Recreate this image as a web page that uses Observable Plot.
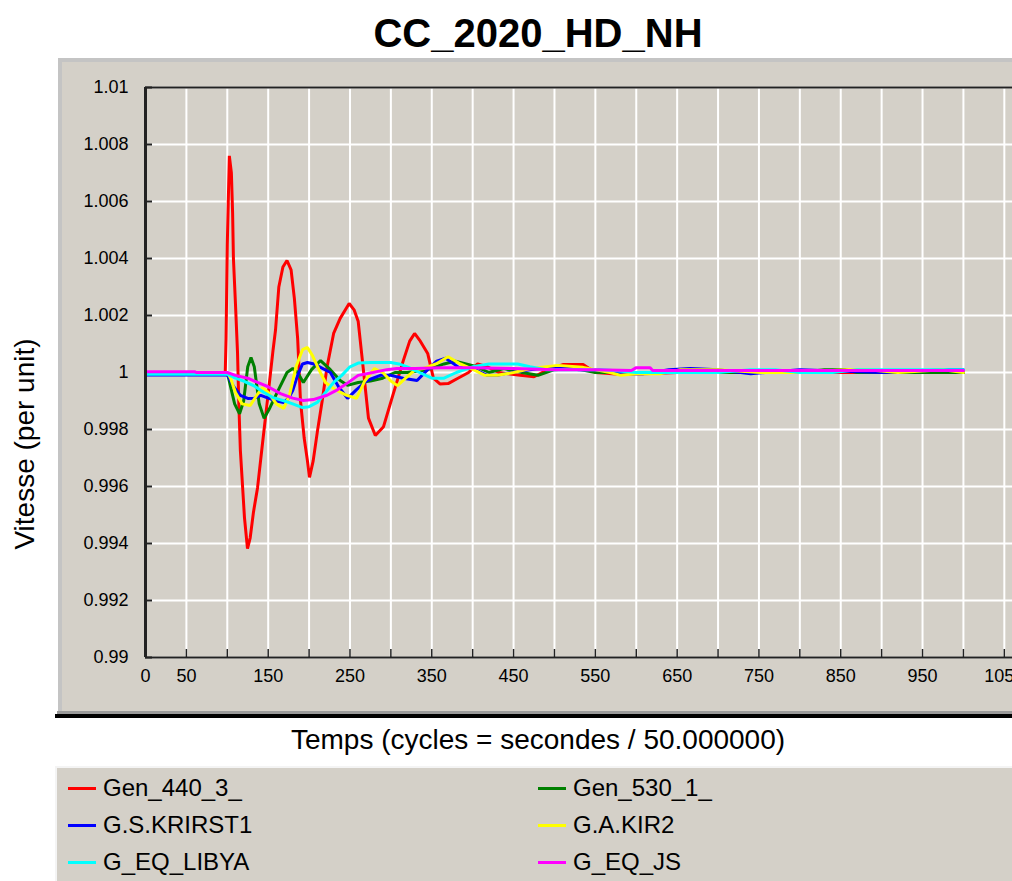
<!DOCTYPE html>
<html>
<head>
<meta charset="utf-8">
<script src="https://cdn.jsdelivr.net/npm/d3@7"></script>
<script src="https://cdn.jsdelivr.net/npm/@observablehq/plot@0.6"></script>
<style>
  html, body { margin: 0; padding: 0; background: #fff; overflow: hidden; }
  #page { position: relative; width: 1012px; height: 881px; font-family: "Liberation Sans", Arial, sans-serif; color: #000; }
  #title { position: absolute; left: 64px; width: 948px; top: 13px; text-align: center; font-size: 40px; line-height: 40px; font-weight: bold; }
  #panel { position: absolute; left: 58px; top: 58px; width: 960px; height: 654px; background: #d4d0c8; border-left: 4px solid #c4c4c4; border-top: 4px solid #c4c4c4; box-sizing: border-box; }
  #shade { position: absolute; left: 57px; top: 711px; width: 960px; height: 3px; background: #9a9a9a; }
  #blackline { position: absolute; left: 55px; top: 714px; width: 960px; height: 4px; background: #000; }
  #chart { position: absolute; left: 0; top: 62px; }
  #ylabel { position: absolute; left: -125px; top: 429px; width: 300px; height: 30px; line-height: 30px; font-size: 28px; text-align: center; transform: rotate(-90deg); white-space: nowrap; }
  #xlabel { position: absolute; left: 64px; width: 948px; top: 725px; line-height: 30px; font-size: 28px; text-align: center; white-space: nowrap; }
  #legend { position: absolute; left: 55px; top: 766px; width: 960px; height: 115px; background: #d4d0c8; border-top: 2px solid #f4f4f4; border-left: 2px solid #f4f4f4; box-sizing: border-box; }
  .item { position: absolute; height: 30px; line-height: 30px; font-size: 24px; white-space: nowrap; }
  .item .sw { position: absolute; left: 0; top: 14px; width: 28px; height: 3px; }
  .item .tx { position: absolute; left: 35px; top: 0; }
</style>
</head>
<body>
<div id="page">
  <div id="title">CC_2020_HD_NH</div>
  <div id="panel"></div>
  <div id="shade"></div>
  <div id="blackline"></div>
  <div id="chart"></div>
  <div id="ylabel">Vitesse (per unit)</div>
  <div id="xlabel">Temps (cycles = secondes / 50.000000)</div>
  <div id="legend"></div>
</div>
<script>
// ---- Data (time in cycles, speed in per unit) ----
const seriesNames = ["Gen_440_3_", "Gen_530_1_", "G.S.KRIRST1", "G.A.KIR2", "G_EQ_LIBYA", "G_EQ_JS"];
const seriesColors = ["#ff0000", "#008000", "#0000ff", "#ffff00", "#00ffff", "#ff00ff"];

const gen440 = [[0,1],[50,1],[97.5,1],[98.5,1.0012],[100,1.0045],[102.5,1.0076],[105,1.0070],[106.5,1.0056],[107.5,1.0040],[110,1.0024],[112.5,1.0007],[114,0.9990],[116,0.99726],[121,0.99491],[124.7,0.99382],[128,0.9942],[132,0.9951],[137,0.99596],[143,0.9975],[149,0.9990],[156,1.0008],[159,1.0015],[163,1.0030],[168,1.0037],[173,1.00393],[178,1.0036],[182,1.0026],[186,1.0012],[189.5,0.9990],[194,0.9977],[198,0.9969],[200.5,0.99632],[205,0.9969],[210,0.9979],[216,0.9990],[222,1.0002],[230,1.00137],[238,1.0019],[249,1.00242],[255,1.0022],[260,1.0018],[266,1.0002],[272.6,0.9984],[281,0.99779],[291,0.9981],[303,0.99926],[315,1.0004],[323,1.0011],[329,1.00137],[336,1.0011],[345,1.00067],[352,0.9998],[360,0.9996],[370,0.99961],[382,0.9998],[395,1.0000],[406,1.0003],[418,1.0002],[432,1.0000],[458,0.9999],[475,0.99985],[492,1.0001],[511,1.00028],[535,1.00028],[550,1.0000],[575,0.99995],[609,0.99996],[650,1.0],[760,1.0],[800,1.0],[900,1.0],[1000,1.0]];

const gen530 = [[0,1],[100,1],[104,0.9995],[109,0.9989],[115,0.99855],[120,0.9990],[125,1.0002],[129,1.00053],[133,1.0002],[139,0.9989],[145,0.99839],[151,0.9987],[161,0.9993],[173,1.0],[180,1.00014],[186,1.0000],[193,0.99965],[203,1.0001],[214,1.00042],[226,1.0001],[238,0.99972],[247,0.99955],[260,0.99965],[275,0.9997],[290,0.9998],[305,1.0000],[320,1.0000],[345,1.0001],[365,1.0003],[379,1.0004],[392,1.0003],[405,1.0002],[420,1.0000],[438,1.00014],[460,1.0000],[480,0.9999],[500,1.0001],[525,1.00014],[550,1.0000],[600,1.0],[700,1.0],[800,1.0],[830,1.0001],[855,1.0001],[870,1.0],[1000,1.0]];

const krirst1 = [[0,0.99991],[50,0.99991],[100,0.99992],[107,0.99954],[116,0.9992],[125,0.99909],[133,0.9991],[141,0.9992],[150,0.9991],[160,0.9990],[169,0.99895],[175,0.9991],[180,0.99937],[186,0.9999],[192,1.0003],[198,1.00035],[206,1.0003],[214,1.00018],[226,1.0000],[236,0.9995],[247,0.99909],[258,0.9994],[271,0.99972],[287,0.9999],[300,0.9999],[315,0.9998],[332,0.99972],[345,1.0001],[356,1.0004],[367,1.0005],[383,1.00018],[400,1.00014],[418,0.9999],[430,0.9999],[446,1.0000],[470,1.0001],[495,1.00018],[507,1.00018],[530,1.0001],[553,1.0001],[589,0.99996],[609,0.99996],[640,1.0001],[666,1.00014],[700,1.0001],[740,0.99996],[800,1.0001],[900,1.0000],[980,1.0001],[1000,1.0001]];

const kir2 = [[0,1.0],[100,1.0],[104,0.9998],[110,0.9993],[118,0.9989],[128,0.99884],[136,0.9992],[143,0.99947],[150,0.9993],[160,0.9989],[169,0.99874],[176,0.9992],[184,1.0002],[192,1.0008],[198,1.00088],[204,1.0006],[212,1.0001],[220,0.99965],[232,0.9994],[246,0.9992],[258,0.99909],[268,0.9997],[280,1.00014],[290,1.0000],[300,0.9997],[308,0.99954],[318,0.9998],[330,1.0001],[340,1.00014],[355,1.0003],[370,1.00055],[385,1.0003],[401,1.0001],[415,0.9999],[430,0.9999],[450,1.0],[471,1.00014],[504,1.00025],[535,1.00018],[568,1.0],[581,0.9999],[600,0.99996],[630,0.99996],[654,1.0001],[700,1.0001],[752,1.0],[792,1.0],[858,1.0001],[883,1.0001],[920,1.0],[975,1.0001],[1000,1.0]];

const libya = [[0,0.99994],[100,0.99994],[110,0.9998],[120,0.9997],[132,0.99954],[145,0.9993],[156,0.99912],[170,0.9990],[180,0.9989],[192,0.99877],[200,0.9988],[210,0.99895],[220,0.9993],[230,0.99965],[240,0.9999],[250,1.0002],[260,1.00033],[275,1.00035],[300,1.00035],[310,1.0003],[320,1.0002],[335,1.0],[350,0.9998],[365,0.9998],[380,1.0],[400,1.0002],[420,1.0003],[455,1.0003],[470,1.0002],[490,1.0001],[520,1.0001],[560,1.0001],[600,1.0000],[650,1.0],[700,1.0],[740,1.0001],[770,1.0001],[800,1.0],[840,1.0],[870,1.0001],[940,1.0001],[1000,1.0001]];

const eqjs = [[0,1.00003],[60,1.00003],[62,1.0],[100,1.0],[110,0.9999],[125,0.9998],[137,0.99965],[150,0.9995],[165,0.99926],[180,0.9991],[193,0.99902],[205,0.99905],[222,0.9992],[235,0.9994],[246,0.99961],[260,0.9999],[278,1.0000],[295,1.0001],[307,1.00014],[330,1.00014],[360,1.00017],[400,1.00017],[450,1.00014],[500,1.0001],[550,1.0001],[594,1.00007],[600,1.00017],[617,1.00017],[620,1.00007],[700,1.00007],[800,1.00007],[900,1.00007],[1000,1.00007]];

const xGridTicks = [0,50,100,150,200,250,300,350,400,450,500,550,600,650,700,750,800,850,900,950,1000,1050];
const xLabelTicks = [0,50,150,250,350,450,550,650,750,850,950,1050];
const yTicks = [0.99,0.992,0.994,0.996,0.998,1,1.002,1.004,1.006,1.008,1.01];

// ---- Build table ----
const seriesData = [gen440, gen530, krirst1, kir2, libya, eqjs];
const rows = seriesData.flatMap((arr, i) => arr.map(([t, v]) => ({t, v, name: seriesNames[i]})));

const W = 1012, H = 650, mT = 25, mB = 55, mL = 145;
const plotH = H - mT - mB;
const plotW = W - mL;

const chart = Plot.plot({
  width: W, height: H,
  marginLeft: mL, marginRight: 0, marginTop: mT, marginBottom: mB,
  style: {background: "transparent", fontFamily: "'Liberation Sans', Arial, sans-serif", fontSize: "18px", color: "#000"},
  x: {domain: [0, 1060], ticks: xLabelTicks, tickSize: 0, tickPadding: 12, tickFormat: d => String(d), label: null},
  y: {domain: [0.99, 1.01], ticks: yTicks, tickSize: 0, tickPadding: 17, tickFormat: d => String(+d.toFixed(3)), label: null},
  color: {domain: seriesNames, range: seriesColors},
  marks: [
    Plot.ruleX(xGridTicks, {stroke: "#ffffff", strokeWidth: 2}),
    Plot.ruleY(yTicks, {stroke: "#ffffff", strokeWidth: 2}),
    Plot.tickY(yTicks, {stroke: "#222", strokeWidth: 2, insetRight: plotW - 7}),
    Plot.tickX(xGridTicks, {stroke: "#222", strokeWidth: 1.5, insetTop: plotH - 8}),
    Plot.line(rows, {x: "t", y: "v", z: "name", stroke: "name", strokeWidth: 3, strokeLinejoin: "miter"}),
    Plot.ruleX([0], {stroke: "#222", strokeWidth: 3}),
    Plot.ruleY([0.99, 1.01], {stroke: "#222", strokeWidth: 2})
  ]
});
document.getElementById("chart").appendChild(chart);

// ---- Legend ----
const legend = document.getElementById("legend");
const pos = [[11, 5], [481, 5], [11, 42], [481, 42], [11, 79], [481, 79]];
seriesNames.forEach((n, i) => {
  const it = document.createElement("div");
  it.className = "item";
  it.style.left = pos[i][0] + "px";
  it.style.top = pos[i][1] + "px";
  const sw = document.createElement("div");
  sw.className = "sw";
  sw.style.background = seriesColors[i];
  const tx = document.createElement("div");
  tx.className = "tx";
  tx.textContent = n;
  it.appendChild(sw); it.appendChild(tx);
  legend.appendChild(it);
});
</script>
</body>
</html>
